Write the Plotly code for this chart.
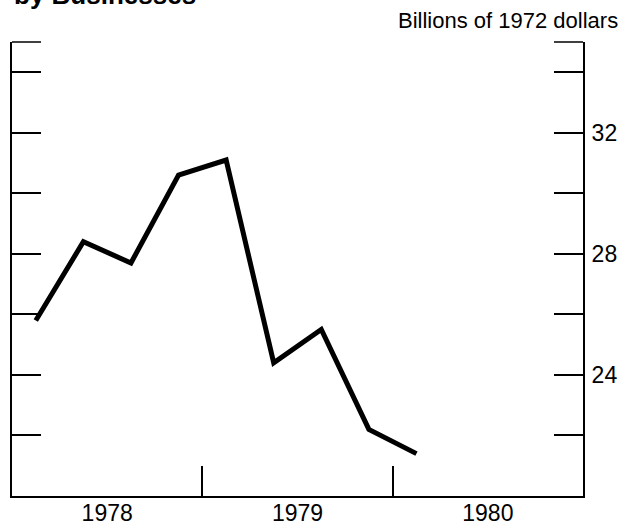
import plotly.graph_objects as go

# quarterly points, Q1 1978 .. Q1 1980 (billions of 1972 dollars)
QUARTERS = [1978.125, 1978.375, 1978.625, 1978.875,
            1979.125, 1979.375, 1979.625, 1979.875,
            1980.125]
VALUES = [25.8, 28.4, 27.7, 30.6, 31.1, 24.4, 25.5, 22.2, 21.4]

YEAR_LABELS = ["1978", "1979", "1980"]
YEAR_CENTERS = [1978.5, 1979.5, 1980.5]
YEAR_BREAKS = [1979, 1980]

Y_TICKS = [22, 24, 26, 28, 30, 32, 34]
Y_LABELS = ["", "24", "", "28", "", "32", ""]

FONT = "Arial, Liberation Sans, Helvetica, sans-serif"
TICK_LEN = 29

fig = go.Figure()

fig.add_trace(go.Scatter(
    x=QUARTERS,
    y=VALUES,
    mode="lines",
    line=dict(color="black", width=5),
    showlegend=False,
    hoverinfo="skip",
))

fig.update_layout(
    width=626,
    height=527,
    margin=dict(l=12, r=43, t=42, b=31),
    paper_bgcolor="white",
    plot_bgcolor="white",
    font=dict(family=FONT, color="black", size=22),
    xaxis=dict(
        range=[1978, 1981],
        automargin=False,
        showgrid=False,
        zeroline=False,
        showline=True,
        linecolor="black",
        linewidth=2,
        tickvals=YEAR_CENTERS,
        ticktext=YEAR_LABELS,
        ticks="",
        tickfont=dict(size=23),
        ticklabelstandoff=-5,
        minor=dict(tickvals=YEAR_BREAKS, ticks="inside", ticklen=30,
                   tickwidth=1.5, tickcolor="black"),
    ),
    yaxis=dict(
        range=[20, 35],
        automargin=False,
        side="right",
        showgrid=False,
        zeroline=False,
        showline=True,
        mirror="ticks",
        linecolor="black",
        linewidth=2,
        tickvals=Y_TICKS,
        ticktext=Y_LABELS,
        ticks="inside",
        ticklen=TICK_LEN,
        tickwidth=1.5,
        tickcolor="black",
        tickfont=dict(size=23),
        ticklabelstandoff=2,
    ),
    annotations=[
        dict(text="<b>by Businesses</b>", xref="paper", yref="paper",
             x=0, y=1.066, xanchor="left", yanchor="bottom",
             showarrow=False, font=dict(size=26)),
        dict(text="Billions of 1972 dollars", xref="paper", yref="paper",
             x=1.064, y=1.016, xanchor="right", yanchor="bottom",
             showarrow=False, font=dict(size=22)),
    ],
)

# short top ticks at both corners of the frame
plot_w = 626 - 12 - 43
for x0, x1 in [(0, TICK_LEN / plot_w), (1 - TICK_LEN / plot_w, 1)]:
    fig.add_shape(type="line", xref="paper", yref="paper",
                  x0=x0, x1=x1, y0=1, y1=1,
                  line=dict(color="black", width=1.5))

# the page is exactly the figure size: drop the default body margin
fig.write_html("out.html", config={"displayModeBar": False},
               post_script="document.body.style.margin='0';")
